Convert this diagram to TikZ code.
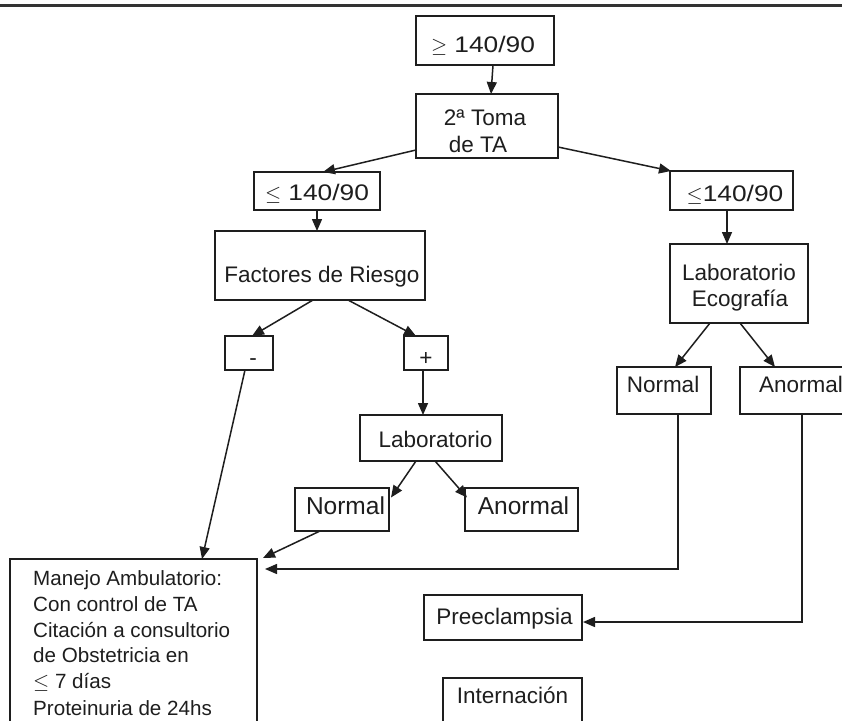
\documentclass[tikz,border=0pt]{standalone}
\usepackage{fontspec}
\setmainfont{Liberation Sans}
\usetikzlibrary{arrows.meta}
\definecolor{ink}{HTML}{1E1E1E}
\begin{document}
\begin{tikzpicture}[x=1pt,y=-1pt,
  bx/.style={draw=ink, line width=1.8pt, inner sep=0pt, outer sep=0pt, fill=none},
  txt/.style={text=ink, inner sep=0pt, anchor=base, font=\fontsize{22.5}{26}\selectfont},
  txtn/.style={txt, font=\fontsize{22.5}{26}\selectfont\addfontfeatures{FakeStretch=1.17}},
  txtb/.style={txt, font=\fontsize{24.5}{28}\selectfont},
  txtm/.style={text=ink, inner sep=0pt, anchor=base west, font=\fontsize{20.6}{24}\selectfont},
  arr/.style={draw=ink, line width=1.5pt, -{Triangle[length=12pt,width=10pt]}}]
\clip (0,0) rectangle (842,720);
\fill[white] (0,0) rectangle (842,720);
% top rule
\coordinate (rl) at (0,5.5);
\coordinate (rr) at (842,5.5);
\draw[line width=3pt, black!80] (rl) -- (rr);
% boxes
\node[bx, minimum width=138pt, minimum height=49pt] (top) at (485,40.5) {};
\node[bx, minimum width=142pt, minimum height=64pt] (toma) at (487,126) {};
\node[bx, minimum width=126pt, minimum height=38pt] (lel) at (317,191) {};
\node[bx, minimum width=123pt, minimum height=39pt] (ler) at (731.5,190.5) {};
\node[bx, minimum width=210pt, minimum height=69pt] (fr) at (320,265.5) {};
\node[bx, minimum width=138pt, minimum height=79pt] (le) at (739,283.5) {};
\node[bx, minimum width=48pt, minimum height=34pt] (mn) at (249,353) {};
\node[bx, minimum width=44pt, minimum height=34pt] (pl) at (426,353) {};
\node[bx, minimum width=142pt, minimum height=46pt] (lab) at (431,438) {};
\node[bx, minimum width=94pt, minimum height=43pt] (nl) at (342,509.5) {};
\node[bx, minimum width=113pt, minimum height=43pt] (al) at (521.5,509.5) {};
\node[bx, minimum width=94pt, minimum height=47pt] (nr) at (664,390.5) {};
\node[bx, minimum width=120pt, minimum height=47pt] (ar) at (800,390.5) {};
\node[bx, minimum width=158pt, minimum height=45pt] (pre) at (503,617.5) {};
\node[bx, minimum width=139pt, minimum height=62pt] (int) at (512.5,709) {};
\node[bx, minimum width=247pt, minimum height=181pt] (mj) at (133.5,649.5) {};
% texts
\node[txtn] (ttop) at (483,52) {$\geq$ 140/90};
\node[txt] (ttoma1) at (485,125) {2ª Toma};
\node[txt] (ttoma2) at (478,152) {de TA};
\node[txtn] (tlel) at (317,200) {$\leq$ 140/90};
\node[txtn] (tler) at (735,201) {$\leq$140/90};
\node[txt] (tfr) at (322,282) {Factores de Riesgo};
\node[txt] (tle1) at (739,280) {Laboratorio};
\node[txt] (tle2) at (740,306) {Ecografía};
\node[txt] (tmn) at (253,365) {-};
\node[txt] (tpl) at (426,365) {+};
\node[txt] (tlab) at (435.5,447) {Laboratorio};
\node[txtb] (tnl) at (345.5,514) {Normal};
\node[txtb] (tal) at (523.5,514) {Anormal};
\node[txt] (tnr) at (663,392) {Normal};
\node[txt, anchor=base west] (tar) at (759,392) {Anormal};
\node[txt] (tpre) at (504.5,624) {Preeclampsia};
\node[txt] (tint) at (512.5,703) {Internación};
\node[txtm] (m1) at (33,585) {Manejo Ambulatorio:};
\node[txtm] (m2) at (33,611) {Con control de TA};
\node[txtm] (m3) at (33,637) {Citación a consultorio};
\node[txtm] (m4) at (33,662) {de Obstetricia en};
\node[txtm] (m5) at (33,688) {$\leq$ 7 días};
\node[txtm] (m6) at (33,715) {Proteinuria de 24hs};
% connectors
\draw[arr] ([xshift=8pt]top.south) -- ([xshift=4pt]toma.north);
\draw[arr] ([yshift=-24pt]toma.west) -- ([xshift=6pt]lel.north);
\draw[arr] ([yshift=-21pt]toma.east) -- ([xshift=1pt]ler.north west);
\draw[arr] (lel.south) -- ([xshift=-3pt]fr.north);
\draw[arr] ([xshift=-4.5pt]ler.south) -- ([xshift=-12pt]le.north);
\draw[arr] ([xshift=-7pt]fr.south) -- ([xshift=3pt]mn.north);
\draw[arr] ([xshift=28pt]fr.south) -- ([xshift=-10pt]pl.north);
\draw[arr] ([xshift=-3pt]pl.south) -- ([xshift=-8pt]lab.north);
\draw[arr] ([xshift=-15pt]lab.south) -- ([xshift=2pt,yshift=12pt]nl.east);
\draw[arr] ([xshift=4pt]lab.south) -- ([xshift=2pt,yshift=12pt]al.west);
\draw[arr] ([xshift=-22pt]nl.south) -- ([xshift=6pt,yshift=1pt]mj.north east);
\draw[arr] ([xshift=-4pt]mn.south) -- ([xshift=68.5pt]mj.north);
\draw[arr] ([xshift=-29pt]le.south) -- ([xshift=11pt]nr.north);
\draw[arr] ([xshift=1pt]le.south) -- ([xshift=-25pt]ar.north);
\draw[arr] ([xshift=14pt]nr.south) |- ([xshift=8pt,yshift=-10pt]mj.north east);
\draw[arr] ([xshift=2pt]ar.south) |- ([xshift=1pt,yshift=-4.5pt]pre.east);
\end{tikzpicture}
\end{document}
